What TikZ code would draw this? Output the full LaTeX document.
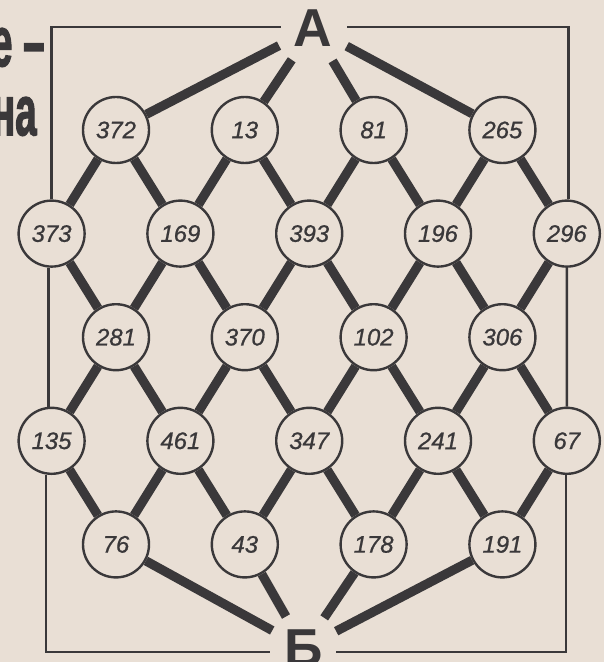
\documentclass[tikz,border=0pt]{standalone}
\usepackage{fontspec}
\setmainfont{Liberation Sans}
\newfontfamily\numfont[FakeBold=0.8]{Liberation Sans}
\newfontfamily\headfont[FakeBold=2.5]{Liberation Sans}
\usetikzlibrary{positioning}
\definecolor{paper}{RGB}{233,223,213}
\definecolor{ink}{RGB}{58,56,58}

\begin{document}
\begin{tikzpicture}[x=0.25mm, y=-0.25mm,
    cell/.style={circle, draw=ink, fill=paper, line width=0.6mm, minimum size=16.5mm, inner sep=0pt, text=ink, font=\numfont\fontsize{17}{20}\selectfont\itshape},
    road/.style={draw=ink, line width=2.3mm},
    wall/.style={draw=ink, line width=0.6mm},
    gate/.style={circle, inner sep=0pt, text=ink, font=\fontsize{38}{40}\selectfont\bfseries},
    title/.style={anchor=base east, inner sep=0pt, text=ink, font=\headfont\fontsize{50}{54}\selectfont\bfseries},
    node distance=25.9mm and 16.1mm, on grid
]

\fill [paper] (0,0) rectangle (604,662);
\useasboundingbox (0,0) rectangle (604,662);

\node (head1) [title] at (45,66) {\scalebox{0.55}[1]{е –}};
\node (head2) [title] at (37,135) {\scalebox{0.55}[1]{на}};

\node (A) [gate, minimum size=19mm] at (313,28) {А};
\node (B) [gate, minimum size=18mm] at (304,648) {Б};

\node (n372) [cell] at (116,130) {372};
\node (n13) [cell, right=32.2mm of n372] {13};
\node (n81) [cell, right=32.2mm of n13] {81};
\node (n265) [cell, right=32.2mm of n81] {265};

\node (n373) [cell, below left=of n372] {373};
\node (n169) [cell, below right=of n372] {169};
\node (n393) [cell, below right=of n13] {393};
\node (n196) [cell, below right=of n81] {196};
\node (n296) [cell, below right=of n265] {296};

\node (n281) [cell, below right=of n373] {281};
\node (n370) [cell, below right=of n169] {370};
\node (n102) [cell, below right=of n393] {102};
\node (n306) [cell, below right=of n196] {306};

\node (n135) [cell, below left=of n281] {135};
\node (n461) [cell, below right=of n281] {461};
\node (n347) [cell, below right=of n370] {347};
\node (n241) [cell, below right=of n102] {241};
\node (n67) [cell, below right=of n306] {67};

\node (n76) [cell, below right=of n135] {76};
\node (n43) [cell, below right=of n461] {43};
\node (n178) [cell, below right=of n347] {178};
\node (n191) [cell, below right=of n241] {191};

\coordinate (wallNW) at (281,27);
\coordinate (wallNE) at (347,27);
\coordinate (wallSW) at (270,652);
\coordinate (wallSE) at (336,652);

\draw [wall] (n373.north) |- (wallNW);
\draw [wall] ([xshift=-0.8mm]n373.south) -- ([xshift=-0.8mm]n135.north);
\draw [wall] ([xshift=-1.4mm]n135.south) |- (wallSW);
\draw [wall] ([xshift=0.4mm]n296.north) |- (wallNE);
\draw [wall] (n296.south) -- (n67.north);
\draw [wall] ([xshift=-0.2mm]n67.south) |- (wallSE);

\draw [road] (A) -- (n372);
\draw [road] (A) -- (n13);
\draw [road] (A) -- (n81);
\draw [road] (A) -- (n265);

\draw [road] (n372) -- (n373);
\draw [road] (n372) -- (n169);
\draw [road] (n13) -- (n169);
\draw [road] (n13) -- (n393);
\draw [road] (n81) -- (n393);
\draw [road] (n81) -- (n196);
\draw [road] (n265) -- (n196);
\draw [road] (n265) -- (n296);

\draw [road] (n373) -- (n281);
\draw [road] (n169) -- (n281);
\draw [road] (n169) -- (n370);
\draw [road] (n393) -- (n370);
\draw [road] (n393) -- (n102);
\draw [road] (n196) -- (n102);
\draw [road] (n196) -- (n306);
\draw [road] (n296) -- (n306);

\draw [road] (n281) -- (n135);
\draw [road] (n281) -- (n461);
\draw [road] (n370) -- (n461);
\draw [road] (n370) -- (n347);
\draw [road] (n102) -- (n347);
\draw [road] (n102) -- (n241);
\draw [road] (n306) -- (n241);
\draw [road] (n306) -- (n67);

\draw [road] (n135) -- (n76);
\draw [road] (n461) -- (n76);
\draw [road] (n461) -- (n43);
\draw [road] (n347) -- (n43);
\draw [road] (n347) -- (n178);
\draw [road] (n241) -- (n178);
\draw [road] (n241) -- (n191);
\draw [road] (n67) -- (n191);

\draw [road] (n76) -- (B);
\draw [road] (n43) -- (B);
\draw [road] (n178) -- (B);
\draw [road] (n191) -- (B);

\end{tikzpicture}
\end{document}
